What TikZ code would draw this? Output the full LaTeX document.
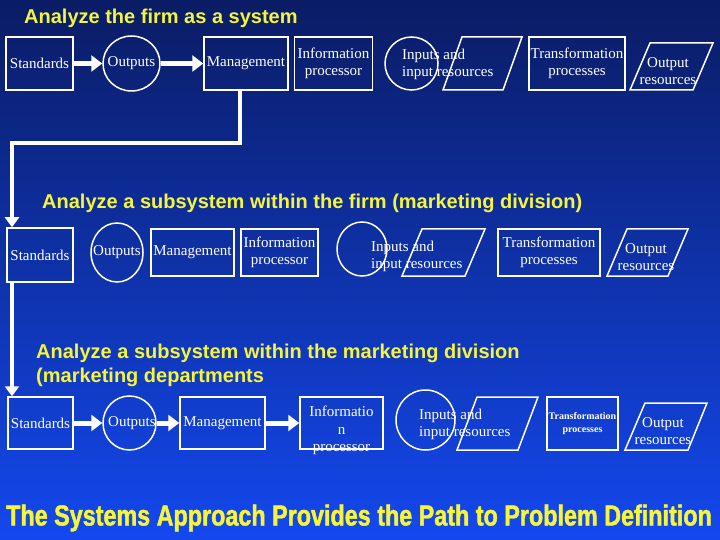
\documentclass[tikz,border=0pt]{standalone}
\usepackage{fontspec}
\setmainfont{Liberation Serif}
\newfontfamily\headfont{Liberation Sans}
\newfontfamily\bannerfont[FakeStretch=0.805,FakeBold=1.5]{Liberation Sans}
\usetikzlibrary{arrows.meta,shapes.geometric}
\definecolor{bgtop}{RGB}{10,28,100}
\definecolor{bgmid}{RGB}{16,50,178}
\definecolor{bgbot}{RGB}{20,72,238}
\definecolor{headyellow}{RGB}{245,245,60}

\begin{document}
\begin{tikzpicture}[x=1pt,y=-1pt,
    box/.style={draw=white,line width=1.5pt,inner sep=0pt,align=center,text=white,
        font=\fontsize{15}{17}\selectfont},
    oval/.style={box,ellipse},
    slant/.style={draw=white,line width=1.5pt},
    boxtext/.style={inner sep=0pt,text=white,font=\fontsize{15}{17.5}\selectfont},
    headline/.style={inner sep=0pt,anchor=west,align=left,text=headyellow,
        font=\headfont\bfseries\fontsize{20}{24}\selectfont},
    fat/.style={draw=white,line width=5pt,-{Triangle[length=11pt,width=16pt]}},
    loopline/.style={draw=white,line width=4pt,-{Triangle[length=10pt,width=14pt]}}]
    % background, pixel coordinates (y down)
    \useasboundingbox (0,0) rectangle (720,540);
    \shade[top color=bgtop,middle color=bgmid,bottom color=bgbot] (0,0) rectangle (720,540);
    \clip (0,0) rectangle (720,540);

    %%% the firm
    \node[headline] (head1) at (24,18) {Analyze the firm as a system};
    \node[box,minimum width=67,minimum height=53] (std1) at (39.5,63.5) {Standards};
    \node[oval,minimum width=57,minimum height=55] (out1) at (131.5,63.5) {\makebox[0pt]{Outputs}};
    \node[box,minimum width=84,minimum height=53] (mgmt1) at (246,63.5) {Management};
    \node[box,minimum width=78,minimum height=53] (info1) at (333.5,63.5) {Information\\processor};
    \node[oval,minimum width=53,minimum height=53] (inp1) at (411.5,63.5) {};
    \draw[slant] (443,90) -- (503,90) -- (522,37) -- (462,37) -- cycle;
    \node[boxtext,align=left,anchor=west] (inp1txt) at (402,64.5) {Inputs and\\input resources};
    \node[box,minimum width=96,minimum height=53] (trans1) at (577,63.5) {Transformation\\processes};
    \draw[slant] (630,90) -- (693,90) -- (713,43) -- (650,43) -- cycle;
    \node[boxtext,align=center] (outres1txt) at (668,71) {Output\\resources};
    \draw[fat] (std1) -- (out1);
    \draw[fat] (out1) -- (mgmt1);

    %%% marketing division
    \node[headline] (head2) at (42,203) {Analyze a subsystem within the firm (marketing division)};
    \node[box,minimum width=66,minimum height=54] (std2) at (40,255) {Standards};
    \node[oval,minimum width=52,minimum height=59] (out2) at (117,252.5) {\makebox[0pt]{Outputs}};
    \node[box,minimum width=83,minimum height=47] (mgmt2) at (192.5,252.5) {Management};
    \node[box,minimum width=77,minimum height=47] (info2) at (279.5,252.5) {Information\\processor};
    \node[oval,minimum width=50,minimum height=54] (inp2) at (362,249) {};
    \draw[slant] (402,276) -- (465,276) -- (485,229) -- (422,229) -- cycle;
    \node[boxtext,align=left,anchor=west] (inp2txt) at (371,256.5) {Inputs and\\input resources};
    \node[box,minimum width=102,minimum height=47] (trans2) at (549,252.5) {Transformation\\processes};
    \draw[slant] (607,276) -- (668,276) -- (688,229) -- (627,229) -- cycle;
    \node[boxtext,align=center] (outres2txt) at (646,257) {Output\\resources};

    %%% marketing departments
    \node[headline] (head3) at (36,365) {Analyze a subsystem within the marketing division\\(marketing departments};
    \node[box,minimum width=65,minimum height=52] (std3) at (40.5,423) {Standards};
    \node[oval,minimum width=53,minimum height=54] (out3) at (129.5,423) {\makebox[0pt]{\hspace{5pt}Outputs}};
    \node[box,minimum width=85,minimum height=52] (mgmt3) at (222.5,423) {Management};
    \node[box,minimum width=83,minimum height=52] (info3) at (341.5,423) {};
    \node[boxtext,align=center] (info3txt) at (341.5,430.5) {Informatio\\n\\processor};
    \node[oval,minimum width=59,minimum height=60] (inp3) at (425.5,420) {};
    \draw[slant] (457,450) -- (518,450) -- (538,397) -- (477,397) -- cycle;
    \node[boxtext,align=left,anchor=west] (inp3txt) at (419,424.5) {Inputs and\\input resources};
    \node[box,minimum width=71,minimum height=53,font=\fontsize{10}{13}\bfseries] (trans3) at (582.5,423.5) {Transformation\\processes};
    \draw[slant] (625,450) -- (688,450) -- (707,403) -- (645,403) -- cycle;
    \node[boxtext,align=center] (outres3txt) at (663,431) {Output\\resources};
    \draw[fat] (std3) -- (out3);
    \draw[fat] (out3) -- (mgmt3);
    \draw[fat] (mgmt3) -- (info3);

    % firm -> division -> departments
    \coordinate (bend) at (12,143);
    \draw[loopline] ([xshift=-6]mgmt1.south) |- (bend) -- (std2.north -| bend);
    \draw[loopline] (std2.south -| bend) -- (std3.north -| bend);

    % banner
    \node[inner sep=0pt,anchor=west,text=headyellow,font=\bannerfont\bfseries\fontsize{29}{32}\selectfont]
        (banner) at (6,518) {The Systems Approach Provides the Path to Problem Definition};
\end{tikzpicture}
\end{document}
